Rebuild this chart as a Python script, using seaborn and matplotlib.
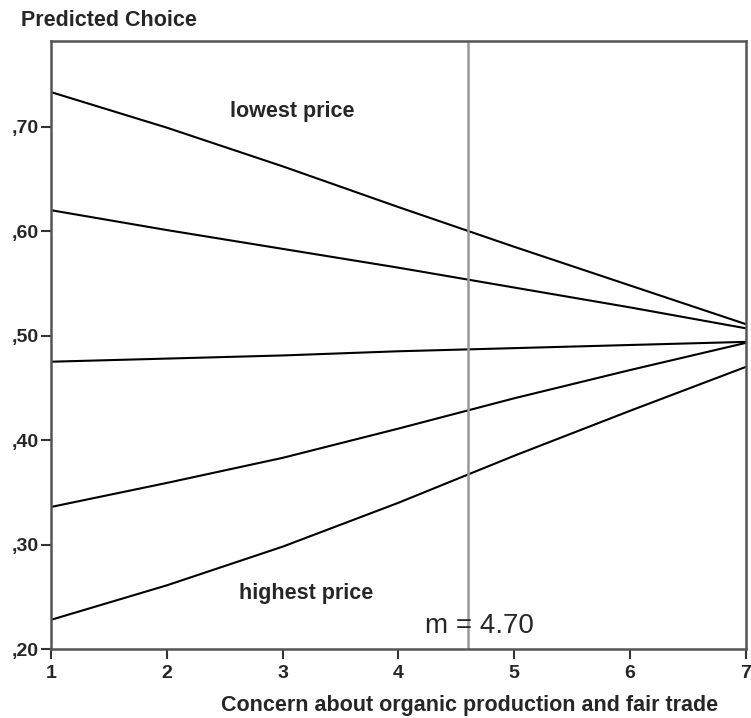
import matplotlib
matplotlib.use("Agg")
import matplotlib.pyplot as plt
import seaborn as sns
import pandas as pd
import numpy as np

# concern score (x) and predicted choice for five price levels
concern = [1, 2, 3, 4, 5, 6, 7]
price_1 = [0.733, 0.699, 0.662, 0.623, 0.585, 0.548, 0.511]   # lowest price
price_2 = [0.620, 0.601, 0.583, 0.565, 0.546, 0.527, 0.507]
price_3 = [0.475, 0.478, 0.481, 0.485, 0.488, 0.491, 0.494]
price_4 = [0.336, 0.359, 0.383, 0.411, 0.440, 0.467, 0.493]
price_5 = [0.228, 0.261, 0.298, 0.340, 0.385, 0.428, 0.470]   # highest price
mean_line = 4.6

yticks = [0.20, 0.30, 0.40, 0.50, 0.60, 0.70]
ytick_labels = [",20", ",30", ",40", ",50", ",60", ",70"]

series = {"p1": price_1, "p2": price_2, "p3": price_3, "p4": price_4, "p5": price_5}
df = pd.concat(
    [pd.DataFrame({"concern": concern, "choice": v, "price": k}) for k, v in series.items()],
    ignore_index=True,
)

sns.set_style("white")
plt.rcParams["font.family"] = ["Liberation Sans", "DejaVu Sans"]

fig = plt.figure(figsize=(7.51, 7.18), dpi=100)
ax = fig.add_axes([0.068, 0.096, 0.925, 0.847])

sns.lineplot(data=df, x="concern", y="choice", hue="price",
             palette=["black"] * 5, linewidth=1.5, legend=False, ax=ax)
ax.axvline(mean_line, color="#999999", linewidth=1.8)

ax.set_xlim(1, 7)
ax.set_ylim(0.2, 0.782)
ax.set_xticks(concern)
ax.set_xticklabels([str(c) for c in concern], fontsize=14, fontweight="bold")
ax.set_yticks(yticks)
ax.set_yticklabels(ytick_labels, fontsize=14, fontweight="bold")
ax.tick_params(axis="both", direction="out", length=7.5, width=1.5, color="#333333",
               left=True, bottom=True)
ax.tick_params(axis="x", pad=4)
ax.tick_params(axis="y", pad=1.5)
for s in ax.spines.values():
    s.set_color("#555555")
    s.set_linewidth(1.8)

ax.set_xlabel("")
ax.set_ylabel("")
ax.text(3.08, 0.714, "lowest price", fontsize=15.5, fontweight="bold", ha="center", va="center")
ax.text(3.2, 0.253, "highest price", fontsize=15.5, fontweight="bold", ha="center", va="center")
ax.text(4.70, 0.222, "m = 4.70", fontsize=20, ha="center", va="center")

fig.text(0.028, 0.972, "Predicted Choice", fontsize=15.5, fontweight="bold", ha="left", va="center")
fig.text(0.956, 0.018, "Concern about organic production and fair trade", fontsize=15.5,
         fontweight="bold", ha="right", va="center")

fig.savefig("out.png", dpi=100)
